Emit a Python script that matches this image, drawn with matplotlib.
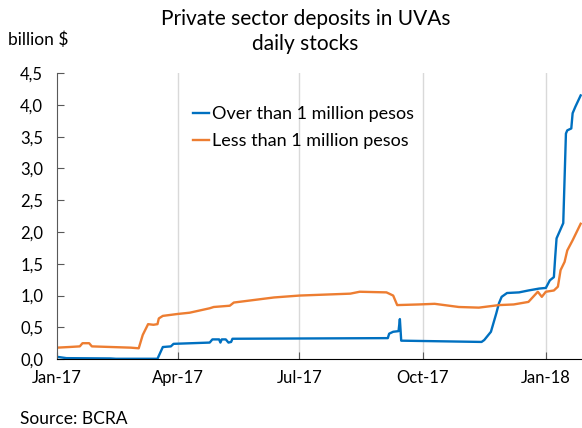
import matplotlib
matplotlib.use("Agg")
import matplotlib.pyplot as plt
import matplotlib.ticker as mticker
import pandas as pd

plt.rcParams['font.family'] = ['Lato', 'DejaVu Sans']

# deposits above 1 million pesos, billion $
over_dates = ["2017-01-01", "2017-01-03", "2017-01-08", "2017-02-10", "2017-02-14",
              "2017-03-17", "2017-03-21", "2017-03-27", "2017-03-29", "2017-04-25",
              "2017-04-27", "2017-05-02", "2017-05-03", "2017-05-04", "2017-05-07",
              "2017-05-09", "2017-05-11", "2017-05-12", "2017-09-05", "2017-09-06",
              "2017-09-09", "2017-09-13", "2017-09-14", "2017-09-15", "2017-10-15",
              "2017-11-14", "2017-11-16", "2017-11-21", "2017-11-25", "2017-11-27",
              "2017-11-29", "2017-12-03", "2017-12-12", "2017-12-19", "2017-12-27",
              "2018-01-01", "2018-01-04", "2018-01-07", "2018-01-08", "2018-01-09",
              "2018-01-14", "2018-01-16", "2018-01-17", "2018-01-20", "2018-01-21",
              "2018-01-23", "2018-01-27"]
over_vals = [0.035, 0.03, 0.015, 0.01, 0.005,
             0.005, 0.19, 0.20, 0.24, 0.26,
             0.31, 0.31, 0.26, 0.31, 0.31,
             0.26, 0.27, 0.32, 0.33, 0.40,
             0.43, 0.44, 0.63, 0.29, 0.28,
             0.27, 0.30, 0.43, 0.72, 0.88,
             0.98, 1.04, 1.05, 1.08, 1.11,
             1.12, 1.24, 1.29, 1.61, 1.90,
             2.14, 3.55, 3.60, 3.63, 3.87,
             3.97, 4.15]

# deposits below 1 million pesos, billion $
less_dates = ["2017-01-01", "2017-01-10", "2017-01-18", "2017-01-20", "2017-01-25",
              "2017-01-27", "2017-02-25", "2017-03-03", "2017-03-06", "2017-03-10",
              "2017-03-14", "2017-03-17", "2017-03-18", "2017-03-21", "2017-04-01",
              "2017-04-10", "2017-04-25", "2017-04-28", "2017-05-10", "2017-05-13",
              "2017-05-28", "2017-06-12", "2017-07-01", "2017-08-08", "2017-08-15",
              "2017-09-04", "2017-09-09", "2017-09-12", "2017-09-28", "2017-10-10",
              "2017-10-28", "2017-11-12", "2017-11-27", "2017-12-08", "2017-12-19",
              "2017-12-26", "2017-12-29", "2018-01-01", "2018-01-07", "2018-01-10",
              "2018-01-12", "2018-01-15", "2018-01-17", "2018-01-21", "2018-01-27"]
less_vals = [0.18, 0.19, 0.20, 0.25, 0.25,
             0.20, 0.18, 0.17, 0.38, 0.55,
             0.54, 0.55, 0.64, 0.68, 0.71,
             0.73, 0.80, 0.82, 0.84, 0.89,
             0.93, 0.97, 1.00, 1.03, 1.06,
             1.05, 1.00, 0.85, 0.86, 0.87,
             0.82, 0.81, 0.85, 0.86, 0.90,
             1.06, 0.98, 1.06, 1.08, 1.14,
             1.40, 1.53, 1.71, 1.87, 2.13]

tick_dates = ["2017-01-01", "2017-04-01", "2017-07-01", "2017-10-01", "2018-01-01"]
tick_labels = ["Jan-17", "Apr-17", "Jul-17", "Oct-17", "Jan-18"]

over_dates = pd.to_datetime(over_dates)
less_dates = pd.to_datetime(less_dates)
ticks = pd.to_datetime(tick_dates)

fig = plt.figure(figsize=(5.82, 4.28), dpi=100)
ax = fig.add_axes([0.098, 0.161, 0.902, 0.668])

ax.plot(over_dates, over_vals, color="#0070C0", lw=1.7, label="Over than 1 million pesos")
ax.plot(less_dates, less_vals, color="#ED7D31", lw=1.7, label="Less than 1 million pesos")

ax.set_xlim(pd.Timestamp("2017-01-01"), pd.Timestamp("2018-01-28"))
ax.set_ylim(0, 4.5)
ax.set_yticks([0, 0.5, 1, 1.5, 2, 2.5, 3, 3.5, 4, 4.5])
ax.yaxis.set_major_formatter(mticker.FuncFormatter(lambda v, p: f"{v:.1f}".replace(".", ",")))
ax.set_xticks(ticks)
ax.set_xticklabels(tick_labels)

for t in ticks[1:]:
    ax.axvline(t, color="#D9D9D9", lw=1, zorder=0)

for s in ["top", "right"]:
    ax.spines[s].set_visible(False)
ax.spines["left"].set_color("#595959")
ax.spines["bottom"].set_color("black")
ax.tick_params(axis="y", direction="in", length=5, color="#595959", labelsize=12, pad=10)
ax.tick_params(axis="x", direction="in", length=5, color="#595959", labelsize=12, pad=8)

ax.legend(loc="upper left", bbox_to_anchor=(0.245, 0.91), frameon=False, fontsize=13,
          handlelength=0.9, handletextpad=0.15, labelspacing=0.6, borderaxespad=0)

fig.text(0.525, 0.98, "Private sector deposits in UVAs\ndaily stocks", ha="center", va="top",
         fontsize=15, linespacing=1.35)
fig.text(0.014, 0.906, "billion $", ha="left", va="center", fontsize=12.5)
fig.text(0.034, 0.022, "Source: BCRA", ha="left", va="center", fontsize=12.5)

fig.savefig("out.png", dpi=100)
